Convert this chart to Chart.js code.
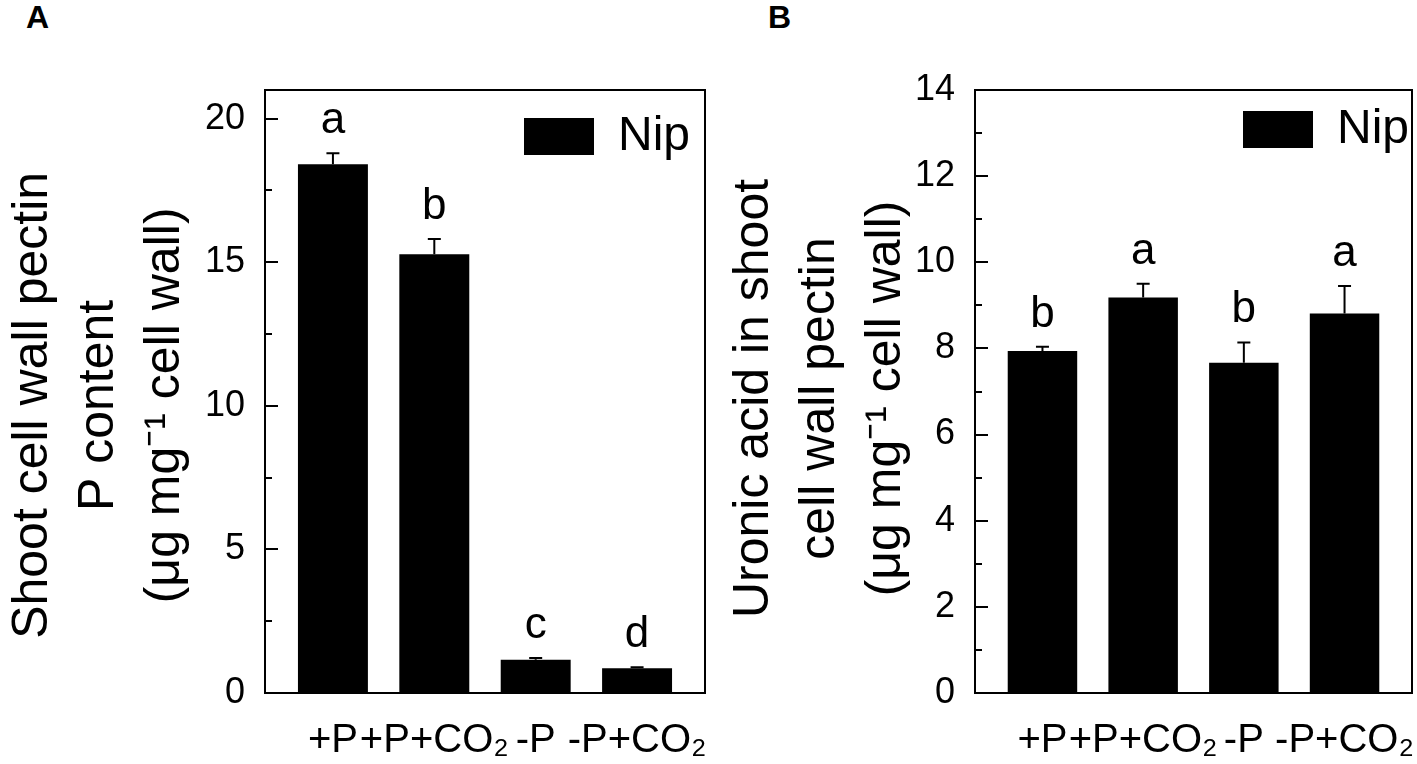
<!DOCTYPE html>
<html>
<head>
<meta charset="utf-8">
<script src="https://cdn.jsdelivr.net/npm/chart.js@4.4.1/dist/chart.umd.min.js"></script>
<style>
  body { margin: 0; background: #fff; width: 1417px; height: 764px; position: relative; overflow: hidden; }
  .panel { position: absolute; top: 0; height: 764px; }
  #wrapA { left: 0; width: 709px; }
  #wrapB { left: 709px; width: 708px; }
  .tag { position: absolute; top: 1px; font: bold 32px/32px "Liberation Sans", Arial, sans-serif; color: #000; }
</style>
</head>
<body>
<div class="tag" style="left:26px">A</div>
<div class="tag" style="left:768px">B</div>
<div class="panel" id="wrapA"><canvas id="chartA" width="709" height="764"></canvas></div>
<div class="panel" id="wrapB"><canvas id="chartB" width="708" height="764"></canvas></div>

<script>
const CATEGORIES = ["+P", "+P+CO₂", "-P", "-P+CO₂"];
const SERIES_NAME = "Nip";

// panel A: shoot cell wall pectin P content
const P_CONTENT = [18.41, 15.28, 1.16, 0.86];
const P_CONTENT_ERR = [0.39, 0.53, 0.06, 0.04];
const P_CONTENT_LETTERS = ["a", "b", "c", "d"];
const TICKS_A = [0, 5, 10, 15, 20];
const MINOR_TICKS_A = [2.5, 7.5, 12.5, 17.5];

// panel B: uronic acid in shoot cell wall pectin
const URONIC = [7.94, 9.18, 7.67, 8.81];
const URONIC_ERR = [0.1, 0.32, 0.47, 0.64];
const URONIC_LETTERS = ["b", "a", "b", "a"];
const TICKS_B = [0, 2, 4, 6, 8, 10, 12, 14];
const MINOR_TICKS_B = [1, 3, 5, 7, 9, 11, 13];

const FONT = '"Liberation Sans", Arial, sans-serif';
Chart.defaults.font.family = FONT;
Chart.defaults.color = "#000";

// frame, inward ticks, error bars and significance letters
function makeDecorations(errors, letters, major, minor, legendAt) {
  return {
    id: "decorations",
    afterLayout(chart) {
      // put the legend inside the plot, top right
      const lg = chart.legend;
      const pad = 10;
      lg.left = legendAt.x - pad;
      lg.top = legendAt.y - pad - 5.5;
      lg.right = lg.left + lg.width + 30;
      lg.bottom = lg.top + lg.height + 10;
    },
    afterDatasetsDraw(chart) {
      const { ctx, chartArea: a, scales: { x, y } } = chart;
      const values = chart.data.datasets[0].data.map((d) => d.y);
      ctx.save();
      ctx.strokeStyle = "#000";
      ctx.lineWidth = 2;
      ctx.beginPath();
      ctx.moveTo(a.left, a.top);
      ctx.lineTo(a.right, a.top);
      ctx.lineTo(a.right, a.bottom);
      ctx.stroke();

      ctx.beginPath();
      major.forEach((v) => {
        const py = Math.round(y.getPixelForValue(v));
        ctx.moveTo(a.left, py);
        ctx.lineTo(a.left + 13, py);
      });
      minor.forEach((v) => {
        const py = Math.round(y.getPixelForValue(v));
        ctx.moveTo(a.left, py);
        ctx.lineTo(a.left + 7, py);
      });
      ctx.stroke();

      ctx.fillStyle = "#000";
      ctx.font = "44px " + FONT;
      ctx.textAlign = "center";
      ctx.textBaseline = "alphabetic";
      values.forEach((v, i) => {
        const px = x.getPixelForValue(i);
        const yTop = y.getPixelForValue(v);
        const yErr = y.getPixelForValue(v + errors[i]);
        ctx.beginPath();
        ctx.moveTo(px, yTop);
        ctx.lineTo(px, yErr);
        ctx.moveTo(px - 6.5, yErr);
        ctx.lineTo(px + 6.5, yErr);
        ctx.stroke();
        ctx.fillText(letters[i], px, yErr - 20);
      });
      ctx.restore();
    },
  };
}

function renderPanel(canvasId, cfg) {
  const ctx = document.getElementById(canvasId).getContext("2d");
  new Chart(ctx, {
    type: "bar",
    data: {
      datasets: [
        {
          label: SERIES_NAME,
          data: cfg.values.map((v, i) => ({ x: i, y: v })),
          backgroundColor: "#000",
          borderWidth: 0,
          barPercentage: 0.69,
          categoryPercentage: 1,
        },
      ],
    },
    options: {
      responsive: false,
      animation: false,
      events: [],
      layout: { padding: { top: 90, right: cfg.padRight, left: 0, bottom: 0 } },
      scales: {
        x: {
          type: "linear",
          min: -0.67,
          max: 3.67,
          offset: false,
          grid: { display: false, drawTicks: false, offset: false },
          border: { display: true, color: "#000", width: 2 },
          afterBuildTicks: (s) => {
            s.ticks = CATEGORIES.map((_, i) => ({ value: i }));
          },
          afterFit: (s) => {
            // fixed height; the last label may overhang the frame
            s.height = 71;
            s.paddingLeft = 0;
            s.paddingRight = 0;
          },
          ticks: {
            autoSkip: false,
            maxRotation: 0,
            padding: 24,
            font: { size: 40 },
            callback: (v) => CATEGORIES[v],
          },
        },
        y: {
          min: 0,
          max: cfg.yMax,
          grid: { display: false, drawTicks: false },
          border: { display: true, color: "#000", width: 2 },
          afterBuildTicks: (s) => {
            s.ticks = cfg.ticks.map((v) => ({ value: v }));
          },
          afterFit: (s) => {
            s.width = cfg.axisWidth;
            s.paddingTop = 0;
            s.paddingBottom = 0;
          },
          ticks: { padding: 20, font: { size: 36 } },
          title: {
            display: true,
            text: cfg.title,
            padding: { top: cfg.titlePad, bottom: 0 },
            font: { size: 50, lineHeight: "66px" },
          },
        },
      },
      plugins: {
        tooltip: { enabled: false },
        legend: {
          position: "chartArea",
          align: "start",
          labels: {
            boxWidth: 70,
            boxHeight: 37,
            padding: 10,
            color: "#000",
            font: { size: 48 },
          },
        },
      },
    },
    plugins: [makeDecorations(cfg.errors, cfg.letters, cfg.ticks, cfg.minor, cfg.legendAt)],
  });
}

// trailing spaces nudge the centred title lines down a little, as in the original
renderPanel("chartA", {
  values: P_CONTENT,
  errors: P_CONTENT_ERR,
  letters: P_CONTENT_LETTERS,
  ticks: TICKS_A,
  minor: MINOR_TICKS_A,
  yMax: 21,
  axisWidth: 265,
  padRight: 4,
  titlePad: 0,
  legendAt: { x: 524, y: 118 },
  title: ["Shoot cell wall pectin  ", "P content  ", "(μg mg⁻¹ cell wall)  "],
});

renderPanel("chartB", {
  values: URONIC,
  errors: URONIC_ERR,
  letters: URONIC_LETTERS,
  ticks: TICKS_B,
  minor: MINOR_TICKS_B,
  yMax: 14,
  axisWidth: 266,
  padRight: 5,
  titlePad: 12,
  legendAt: { x: 534, y: 111 },
  title: ["Uronic acid in shoot ", "cell wall pectin ", "(μg mg⁻¹ cell wall) "],
});
</script>
</body>
</html>
